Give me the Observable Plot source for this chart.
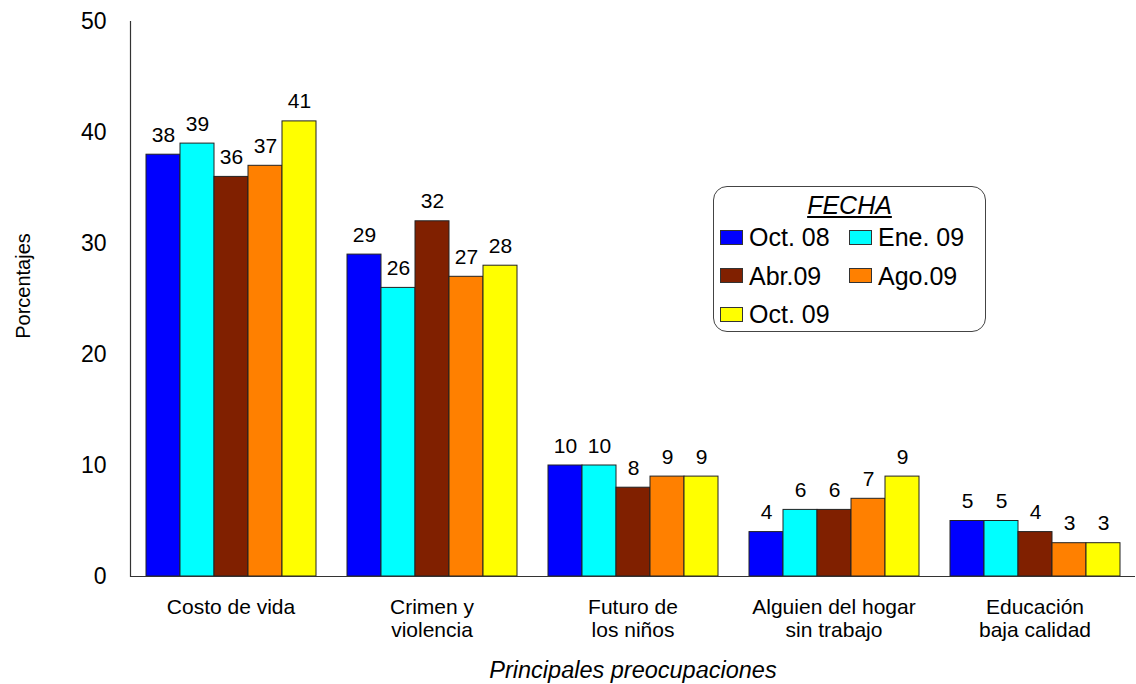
<!DOCTYPE html>
<html>
<head>
<meta charset="utf-8">
<script src="https://cdn.jsdelivr.net/npm/d3@7"></script>
<script src="https://cdn.jsdelivr.net/npm/@observablehq/plot@0.6"></script>
<style>
  body { margin: 0; background: #fff; font-family: "Liberation Sans", Arial, sans-serif; }
  #wrap { position: relative; width: 1136px; height: 684px; overflow: hidden; }
  #wrap svg { font-family: "Liberation Sans", Arial, sans-serif; }
  g[aria-label="fx-axis label"] text { font-size: 23.5px; font-style: italic; }
  g[aria-label="y-axis label"] { translate: 0px -13px; }
  g[aria-label="y-axis label"] text { font-size: 20px; }
  #legend { position: absolute; left: 713px; top: 186px; width: 273px; height: 146px;
    border: 1.5px solid #444; border-radius: 14px; box-sizing: border-box; background: #fff; }
  #legend .title { position: absolute; left: 0; right: 0; top: 4px; text-align: center;
    font-size: 25px; font-style: italic; text-decoration: underline; line-height: 28px; }
  #legend .item { position: absolute; display: flex; align-items: center; font-size: 25px; line-height: 28px; height: 28px; }
  #legend .sw { width: 21px; height: 13px; border: 1px solid #333; margin-right: 6px; }
</style>
</head>
<body>
<div id="wrap"></div>
<script>
const categories = ["Costo de vida", "Crimen y\nviolencia", "Futuro de\nlos niños", "Alguien del hogar\nsin trabajo", "Educación\nbaja calidad"];
const series = ["Oct. 08", "Ene. 09", "Abr.09", "Ago.09", "Oct. 09"];
const colors = ["#0000FF", "#00FFFF", "#802000", "#FF8000", "#FFFF00"];
const oct08 = [38, 29, 10, 4, 5];
const ene09 = [39, 26, 10, 6, 5];
const abr09 = [36, 32, 8, 6, 4];
const ago09 = [37, 27, 9, 7, 3];
const oct09 = [41, 28, 9, 9, 3];
const yTicks = [0, 10, 20, 30, 40, 50];

const seriesValues = [oct08, ene09, abr09, ago09, oct09];
const data = [];
categories.forEach((c, i) => {
  series.forEach((s, j) => data.push({cat: c, serie: s, value: seriesValues[j][i]}));
});

const chart = Plot.plot({
  width: 1136,
  height: 684,
  marginTop: 21,
  marginBottom: 108,
  marginLeft: 128,
  marginRight: 0,
  style: {background: "transparent", fontFamily: "Liberation Sans, Arial, sans-serif", color: "#000"},
  fx: {domain: categories, padding: 0},
  x: {domain: series, paddingInner: 0, paddingOuter: 0.45, axis: null},
  y: {domain: [0, 50]},
  color: {domain: series, range: colors},
  marks: [
    Plot.barY(data, {fx: "cat", x: "serie", y: "value", fill: "serie", stroke: "#222", strokeWidth: 1}),
    Plot.text(data, {fx: "cat", x: "serie", y: "value", text: d => String(d.value), lineAnchor: "bottom", dy: -13, fontSize: 21, fill: "#000"}),
    Plot.ruleY([0], {stroke: "#333", strokeWidth: 1.2}),
    Plot.frame({anchor: "left", facetAnchor: "left", stroke: "#333", strokeWidth: 1.2}),
    Plot.axisY({ticks: yTicks, tickSize: 0, tickPadding: 24, fontSize: 23, label: "Porcentajes", labelAnchor: "center", labelArrow: "none", labelOffset: 115, stroke: "none"}),
    Plot.axisFx({anchor: "bottom", tickSize: 0, tickPadding: 21, fontSize: 21, lineHeight: 1.1, label: "Principales preocupaciones", labelAnchor: "center", labelArrow: "none", labelOffset: 101})
  ]
});
document.getElementById("wrap").appendChild(chart);

// legend
const legend = document.createElement("div");
legend.id = "legend";
const title = document.createElement("div");
title.className = "title";
title.textContent = "FECHA";
legend.appendChild(title);
series.forEach((s, i) => {
  const item = document.createElement("div");
  item.className = "item";
  const col = i % 2, row = Math.floor(i / 2);
  item.style.left = (col === 0 ? 6 : 135) + "px";
  item.style.top = (36 + row * 38.5) + "px";
  const sw = document.createElement("div");
  sw.className = "sw";
  sw.style.background = colors[i];
  const t = document.createElement("span");
  t.textContent = s;
  item.appendChild(sw);
  item.appendChild(t);
  legend.appendChild(item);
});
document.getElementById("wrap").appendChild(legend);
</script>
</body>
</html>
